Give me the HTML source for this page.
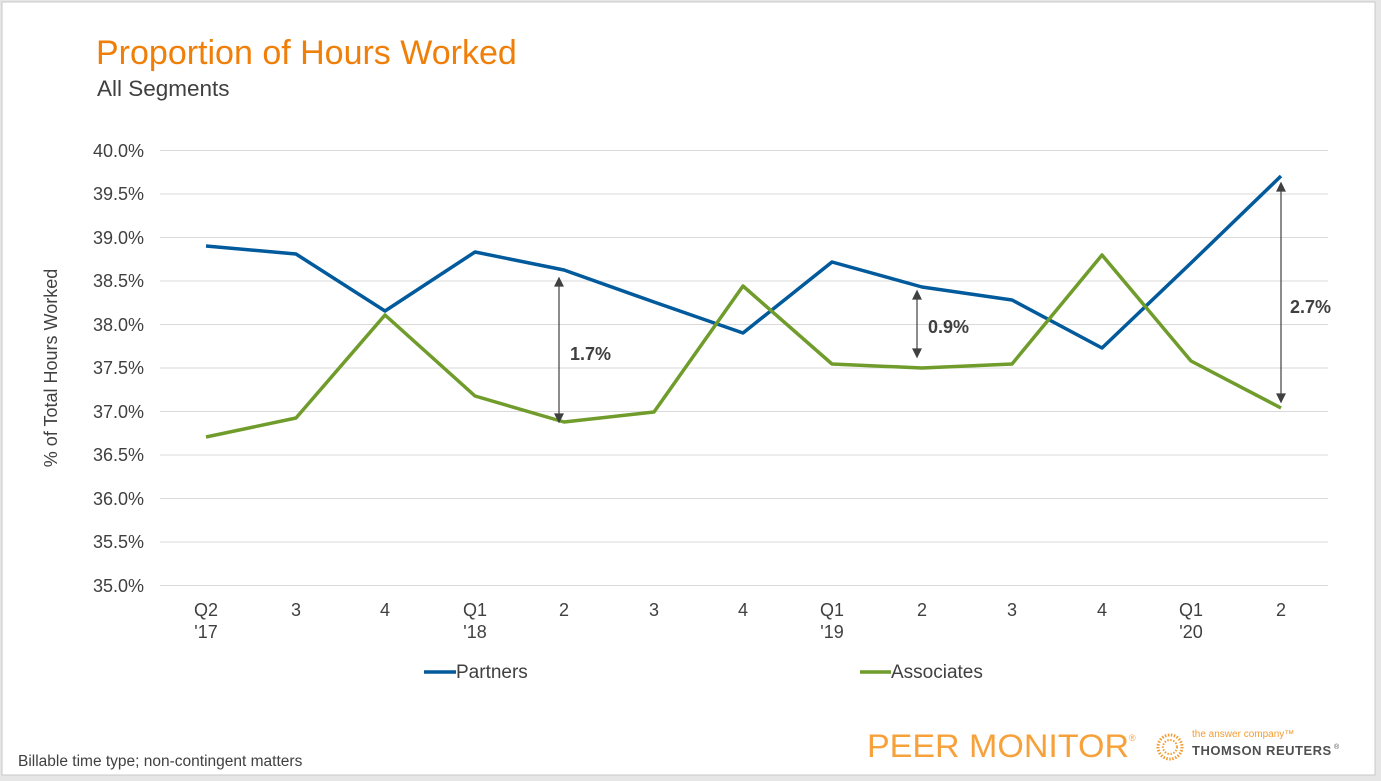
<!DOCTYPE html>
<html><head><meta charset="utf-8"><style>
html,body{margin:0;padding:0;background:#e6e6e6;width:1381px;height:781px;overflow:hidden;font-family:"Liberation Sans",Arial,sans-serif;}
</style></head><body>
<svg width="1381" height="781" xmlns="http://www.w3.org/2000/svg" font-family="Liberation Sans, Arial, sans-serif">
<rect x="2" y="2" width="1373" height="773" fill="#fff" stroke="#c8c8c8" stroke-width="1"/>
<text x="96" y="64" font-size="34" fill="#f07f09">Proportion of Hours Worked</text>
<text x="97" y="96" font-size="22.5" fill="#404040">All Segments</text>
<g stroke="#d9d9d9" stroke-width="1">
<line x1="160" x2="1328" y1="150.5" y2="150.5"/><line x1="160" x2="1328" y1="194" y2="194"/>
<line x1="160" x2="1328" y1="237.5" y2="237.5"/><line x1="160" x2="1328" y1="281" y2="281"/>
<line x1="160" x2="1328" y1="324.5" y2="324.5"/><line x1="160" x2="1328" y1="368" y2="368"/>
<line x1="160" x2="1328" y1="411.5" y2="411.5"/><line x1="160" x2="1328" y1="455" y2="455"/>
<line x1="160" x2="1328" y1="498.5" y2="498.5"/><line x1="160" x2="1328" y1="542" y2="542"/>
<line x1="160" x2="1328" y1="585.5" y2="585.5"/>
</g>
<g font-size="18" fill="#404040" text-anchor="end">
<text x="144" y="157">40.0%</text><text x="144" y="200">39.5%</text><text x="144" y="244">39.0%</text>
<text x="144" y="287">38.5%</text><text x="144" y="331">38.0%</text><text x="144" y="374">37.5%</text>
<text x="144" y="418">37.0%</text><text x="144" y="461">36.5%</text><text x="144" y="505">36.0%</text>
<text x="144" y="548">35.5%</text><text x="144" y="592">35.0%</text>
</g>
<text transform="translate(57,368) rotate(-90)" font-size="18" fill="#404040" text-anchor="middle">% of Total Hours Worked</text>
<g font-size="18" fill="#404040" text-anchor="middle">
<text x="206" y="616">Q2</text><text x="206" y="638">'17</text>
<text x="296" y="616">3</text><text x="385" y="616">4</text>
<text x="475" y="616">Q1</text><text x="475" y="638">'18</text>
<text x="564" y="616">2</text><text x="654" y="616">3</text><text x="743" y="616">4</text>
<text x="832" y="616">Q1</text><text x="832" y="638">'19</text>
<text x="922" y="616">2</text><text x="1012" y="616">3</text><text x="1102" y="616">4</text>
<text x="1191" y="616">Q1</text><text x="1191" y="638">'20</text>
<text x="1281" y="616">2</text>
</g>
<polyline fill="none" stroke="#005a9c" stroke-width="3.5" stroke-linejoin="round" points="206,246 296,254 385,311 475,252 564,270 654,302 743,333 832,262 922,287 1012,300 1102,348 1191,263 1281,176"/>
<polyline fill="none" stroke="#6f9c2a" stroke-width="3.5" stroke-linejoin="round" points="206,437 296,418 385,315 475,396 564,422 654,412 743,286 832,364 922,368 1012,364 1102,255 1191,361 1281,408"/>
<g stroke="#404040" stroke-width="1.2" fill="#404040">
<line x1="559" y1="284" x2="559" y2="416"/><path d="M555,286 L559,278 L563,286Z M555,414 L559,422 L563,414Z"/>
<line x1="917" y1="297" x2="917" y2="351"/><path d="M913,299 L917,291 L921,299Z M913,349 L917,357 L921,349Z"/>
<line x1="1281" y1="189" x2="1281" y2="396"/><path d="M1277,191 L1281,183 L1285,191Z M1277,394 L1281,402 L1285,394Z"/>
</g>
<g font-size="18" font-weight="bold" fill="#404040">
<text x="570" y="360">1.7%</text><text x="928" y="333">0.9%</text><text x="1290" y="313">2.7%</text>
</g>
<line x1="424" y1="672" x2="456" y2="672" stroke="#005a9c" stroke-width="3.5"/>
<text x="456" y="678" font-size="19" fill="#404040">Partners</text>
<line x1="860" y1="672" x2="891" y2="672" stroke="#6f9c2a" stroke-width="3.5"/>
<text x="891" y="678" font-size="19" fill="#404040">Associates</text>
<text x="18" y="766" font-size="15.5" fill="#404040">Billable time type; non-contingent matters</text>
<text x="867" y="757" font-size="32" fill="#f7a13a" textLength="262" lengthAdjust="spacingAndGlyphs">PEER MONITOR</text>
<text x="1129" y="741" font-size="9" fill="#f7a13a">®</text>
<g fill="#f39c32">
<circle cx="1170" cy="747" r="12" fill="none" stroke="#f39c32" stroke-width="3" stroke-dasharray="1.5 1.5"/>
<circle cx="1170" cy="747" r="7" fill="none" stroke="#f39c32" stroke-width="2" stroke-dasharray="1.5 1.5"/>
</g>
<text x="1192" y="737" font-size="10" fill="#f39c32">the answer company™</text>
<text x="1192" y="755" font-size="13" font-weight="bold" fill="#505050" letter-spacing="0.5">THOMSON REUTERS</text>
<text x="1334" y="749" font-size="7" fill="#505050">®</text>
</svg>
</body></html>
